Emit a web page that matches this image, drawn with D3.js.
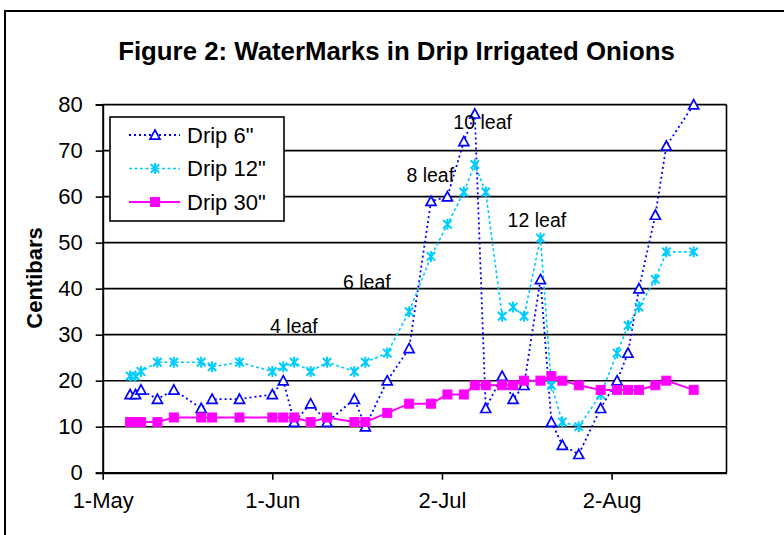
<!DOCTYPE html>
<html><head><meta charset="utf-8">
<script src="https://cdn.jsdelivr.net/npm/d3@7"></script>
<style>body{margin:0;background:#fff}svg{display:block}text{font-family:Arial,"Liberation Sans",sans-serif;fill:#000}</style>
</head><body><svg id="c" width="784" height="535"></svg>
<script>
// ---------- data ----------
const dates = ["2003-05-06","2003-05-07","2003-05-08","2003-05-11","2003-05-14","2003-05-19","2003-05-21","2003-05-26",
  "2003-06-01","2003-06-03","2003-06-05","2003-06-08","2003-06-11","2003-06-16","2003-06-18","2003-06-22","2003-06-26","2003-06-30",
  "2003-07-03","2003-07-06","2003-07-08","2003-07-10","2003-07-13","2003-07-15","2003-07-17","2003-07-20","2003-07-22","2003-07-24",
  "2003-07-27","2003-07-31","2003-08-03","2003-08-05","2003-08-07","2003-08-10","2003-08-12","2003-08-17"];
const drip6  = [17,17,18,16,18,14,16,16,17,20,11,15,11,16,10,20,27,59,60,72,78,14,21,16,19,42,11,6,4,14,20,26,40,56,71,80];
const drip12 = [21,21,22,24,24,24,23,24,22,23,24,22,24,22,24,26,35,47,54,61,67,61,34,36,34,51,19,11,10,17,26,32,36,42,48,48];
const drip30 = [11,11,11,11,12,12,12,12,12,12,12,11,12,11,11,13,15,15,17,17,19,19,19,19,20,20,21,20,19,18,18,18,18,19,20,18];
const seriesNames = ['Drip 6"', 'Drip 12"', 'Drip 30"'];
const yTicks = [0,10,20,30,40,50,60,70,80];
const xTickDates = ["2003-05-01","2003-06-01","2003-07-02","2003-08-02"];
const xDomain = ["2003-05-01","2003-08-23"];
const leafLabels = ["4 leaf","6 leaf","8 leaf","10 leaf","12 leaf"];
const leafDates  = ["2003-05-31T14:00","2003-06-13T22:00","2003-06-25T12:00","2003-07-04T02:00","2003-07-14T00:00"];
const leafValues = [30.3, 40.0, 63.1, 74.6, 53.4];
const titleText = "Figure 2: WaterMarks in Drip Irrigated Onions";
const yLabel = "Centibars";

// ---------- layout ----------
const parse = s => new Date(s + (s.length > 10 ? ":00Z" : "T00:00:00Z"));
const svg = d3.select("#c");
const P = {left:102.7, right:726.5, top:104.6, bottom:472.7};
const x = d3.scaleUtc().domain(xDomain.map(parse)).range([P.left, P.right]);
const y = d3.scaleLinear().domain([0,80]).range([P.bottom, P.top]);
const colors = ["#0000FF","#00CCFF","#FF00FF"];

// outer chart frame
svg.append("path").attr("d","M5,540V11H790").attr("fill","none").attr("stroke","#000").attr("stroke-width",2);

// title
svg.append("text").attr("x",396.5).attr("y",60).attr("text-anchor","middle")
  .style("font-size","25.8px").style("font-weight","bold").text(titleText);

// gridlines
svg.append("g").selectAll("line").data(yTicks.filter(v=>v>0)).join("line")
  .attr("x1",P.left).attr("x2",P.right).attr("y1",d=>y(d)).attr("y2",d=>y(d))
  .attr("stroke","#000").attr("stroke-width",1.6);
// right border
svg.append("line").attr("x1",P.right).attr("x2",P.right).attr("y1",P.top).attr("y2",P.bottom)
  .attr("stroke","#000").attr("stroke-width",1.6);

// y axis
const ya = svg.append("g").attr("transform",`translate(${P.left},0)`)
  .call(d3.axisLeft(y).tickValues(yTicks).tickSize(7).tickPadding(13));
ya.select(".domain").attr("stroke-width",2);
ya.selectAll(".tick line").attr("stroke-width",1.6);
ya.selectAll("text").style("font-size","22px").attr("font-family",null);

// x axis
const xa = svg.append("g").attr("transform",`translate(0,${P.bottom})`)
  .call(d3.axisBottom(x).tickValues(xTickDates.map(parse)).tickFormat(d3.utcFormat("%-d-%b")).tickSize(7).tickSizeOuter(0).tickPadding(13));
xa.select(".domain").attr("stroke-width",2.2);
xa.selectAll(".tick line").attr("stroke-width",1.6);
xa.selectAll("text").style("font-size","22px").attr("font-family",null);

// y label
svg.append("text").attr("transform","translate(42,278) rotate(-90)").attr("text-anchor","middle")
  .style("font-size","22px").style("font-weight","bold").text(yLabel);

// markers
const triPath = "M0,-5L5,4.2L-5,4.2Z";
const starPath = "M-4.2,-4.2L4.2,4.2M-4.2,4.2L4.2,-4.2M0,-5.5V5.5";
function marker(g, i){
  if(i===0) g.append("path").attr("d",triPath).attr("fill","#fff").attr("stroke",colors[0]).attr("stroke-width",1.7);
  else if(i===1) g.append("path").attr("d",starPath).attr("fill","none").attr("stroke",colors[1]).attr("stroke-width",2);
  else g.append("rect").attr("x",-4.5).attr("y",-4.5).attr("width",9).attr("height",9).attr("fill",colors[2]).attr("stroke",colors[2]);
}
const lineStyles = [
  {w:1.8, dash:"2,3"},
  {w:1.6, dash:"3,2.5"},
  {w:2, dash:null}
];

const seriesVals = [drip6, drip12, drip30];
const dd = dates.map(parse);
seriesVals.forEach((vals,i)=>{
  const pts = vals.map((v,j)=>[dd[j],v]);
  const line = d3.line().x(d=>x(d[0])).y(d=>y(d[1]));
  svg.append("path").attr("d",line(pts)).attr("fill","none").attr("stroke",colors[i])
    .attr("stroke-width",lineStyles[i].w).attr("stroke-dasharray",lineStyles[i].dash);
});
seriesVals.forEach((vals,i)=>{
  vals.forEach((v,j)=>{
    const g = svg.append("g").attr("transform",`translate(${x(dd[j])},${y(v)})`);
    marker(g,i);
  });
});

// leaf annotations
svg.append("g").selectAll("text").data(leafLabels).join("text")
  .attr("x",(d,i)=>x(parse(leafDates[i]))).attr("y",(d,i)=>y(leafValues[i]))
  .style("font-size","19.5px").text(d=>d);

// legend
const lg = svg.append("g");
lg.append("rect").attr("x",110).attr("y",117).attr("width",174).attr("height",104)
  .attr("fill","#fff").attr("stroke","#000").attr("stroke-width",1.6);
seriesNames.forEach((n,i)=>{
  const cy = 135 + i*33.5;
  lg.append("line").attr("x1",129).attr("x2",180).attr("y1",cy).attr("y2",cy)
    .attr("stroke",colors[i]).attr("stroke-width",lineStyles[i].w).attr("stroke-dasharray",lineStyles[i].dash);
  marker(lg.append("g").attr("transform",`translate(155,${cy})`), i);
  lg.append("text").attr("x",187).attr("y",cy).attr("dy","0.36em").style("font-size","22px").text(n);
});
</script></body></html>
